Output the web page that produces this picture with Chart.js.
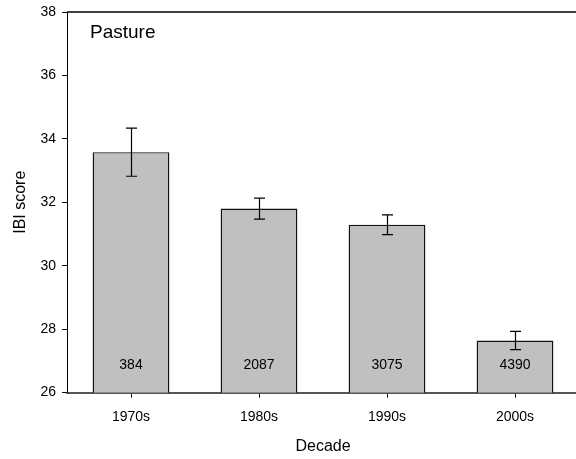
<!DOCTYPE html>
<html>
<head>
<meta charset="utf-8">
<script src="https://cdn.jsdelivr.net/npm/chart.js@4.4.1/dist/chart.umd.min.js"></script>
<style>
  html, body { margin: 0; padding: 0; background: #fff; overflow: hidden; }
  #wrap { position: relative; width: 600px; height: 459px; }
</style>
</head>
<body>
<div id="wrap"><canvas id="c"></canvas></div>
<script>
// Mean IBI score by decade, pasture sites
const decades = ['1970s', '1980s', '1990s', '2000s'];
const meanScores = [33.58, 31.80, 31.29, 27.64];
const stdErrors = [0.76, 0.33, 0.31, 0.29];
const siteCounts = [384, 2087, 3075, 4390];
const yTicks = [26, 28, 30, 32, 34, 36, 38];

const FONT = 'Liberation Sans, Arial, sans-serif';

// Error bars drawn from mean +/- standard error through the y scale
const errorBars = {
  id: 'errorBars',
  afterDatasetsDraw(chart) {
    const { ctx, scales: { x, y } } = chart;
    ctx.save();
    ctx.strokeStyle = '#000';
    ctx.lineWidth = 1.2;
    meanScores.forEach((m, i) => {
      const cx = Math.round(x.getPixelForValue(i)) + 0.5;
      const top = y.getPixelForValue(m + stdErrors[i]);
      const bot = y.getPixelForValue(m - stdErrors[i]);
      const cap = 5.5;
      ctx.beginPath();
      ctx.moveTo(cx, top); ctx.lineTo(cx, bot);
      ctx.moveTo(cx - cap, top); ctx.lineTo(cx + cap, top);
      ctx.moveTo(cx - cap, bot); ctx.lineTo(cx + cap, bot);
      ctx.stroke();
    });
    ctx.restore();
  }
};

// Sample sizes written near the foot of each bar, plus the panel name
const annotations = {
  id: 'annotations',
  afterDraw(chart) {
    const { ctx, chartArea, scales: { x } } = chart;
    ctx.save();
    ctx.fillStyle = '#000';
    ctx.textAlign = 'center';
    ctx.textBaseline = 'middle';
    ctx.font = '14px ' + FONT;
    siteCounts.forEach((n, i) => {
      ctx.fillText(String(n), x.getPixelForValue(i), chartArea.bottom - 27);
    });
    ctx.textAlign = 'left';
    ctx.font = '19px ' + FONT;
    ctx.fillText('Pasture', chartArea.left + 23, chartArea.top + 21);
    // top frame line
    ctx.strokeStyle = '#000';
    ctx.lineWidth = 1.5;
    ctx.beginPath();
    ctx.moveTo(chartArea.left, chartArea.top);
    ctx.lineTo(chart.width, chartArea.top);
    ctx.stroke();
    ctx.restore();
  }
};

new Chart(document.getElementById('c'), {
  type: 'bar',
  data: {
    labels: decades,
    datasets: [{
      data: meanScores,
      backgroundColor: '#c0c0c0',
      borderColor: '#111',
      borderWidth: 1.4,
      categoryPercentage: 0.6,
      barPercentage: 1.0
    }]
  },
  options: {
    responsive: true,
    maintainAspectRatio: false,
    animation: false,
    layout: { padding: { top: 12, right: 21, left: 0, bottom: 0 } },
    plugins: { legend: { display: false }, tooltip: { enabled: false } },
    scales: {
      x: {
        offset: true,
        grid: { display: true, offset: false, drawOnChartArea: false, drawTicks: true, tickLength: 5, color: '#000' },
        border: { display: true, color: '#555', width: 2 },
        ticks: { color: '#000', font: { family: FONT, size: 14 }, padding: 11 },
        title: { display: true, text: 'Decade', color: '#000', font: { family: FONT, size: 16 }, padding: { top: 0, bottom: 3 } },
        afterFit(scale) { scale.height = 66.5; }
      },
      y: {
        min: 26,
        max: 38,
        afterBuildTicks(scale) { scale.ticks = yTicks.map(v => ({ value: v })); },
        grid: { display: true, drawOnChartArea: false, drawTicks: true, tickLength: 5, color: '#000' },
        border: { display: true, color: '#000', width: 1 },
        ticks: { color: '#000', font: { family: FONT, size: 14 }, padding: 6 },
        title: { display: true, text: 'IBI score', color: '#000', font: { family: FONT, size: 16 }, padding: { top: 11, bottom: 0 } },
        afterFit(scale) {
          scale.width = 67;
          scale.paddingTop = 0;
          scale.paddingBottom = 0;
        }
      }
    }
  },
  plugins: [errorBars, annotations]
});
</script>
</body>
</html>
